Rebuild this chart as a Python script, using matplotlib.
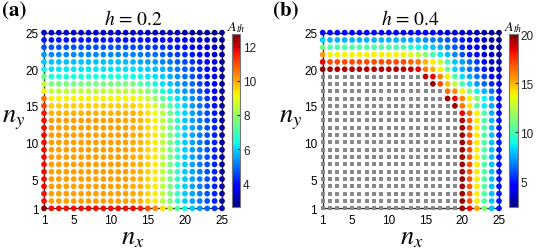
import numpy as np
import matplotlib
matplotlib.use("Agg")
import matplotlib.pyplot as plt

plt.rcParams["mathtext.fontset"] = "stix"
plt.rcParams["font.family"] = ["Liberation Sans", "DejaVu Sans"]

N = np.nan
n_idx = list(range(1, 26))
ticks = [1, 5, 10, 15, 20, 25]

# A_th for h = 0.2, one row per n_y (1..25), columns n_x (1..25)
A_h02 = [
    [12.7] + [11.7] * 11 + [11.7, 11.5, 11.0, 10.3, 9.4, 8.4, 7.2, 6.4, 5.9, 5.4, 4.9, 4.4, 3.0],
    [11.7] + [10.1] * 11 + [10.0, 9.9, 9.5, 9.3, 8.5, 7.6, 6.7, 5.9, 5.5, 5.1, 4.7, 4.2, 2.9],
    [11.7] + [10.1] * 11 + [10.0, 9.9, 9.5, 9.3, 8.5, 7.6, 6.7, 5.9, 5.5, 5.1, 4.7, 4.2, 2.9],
    [11.7] + [10.1] * 11 + [10.0, 9.9, 9.5, 9.3, 8.5, 7.6, 6.7, 5.9, 5.5, 5.1, 4.7, 4.2, 2.9],
    [11.7] + [10.1] * 11 + [10.0, 9.9, 9.5, 9.3, 8.5, 7.6, 6.7, 5.9, 5.5, 5.1, 4.7, 4.2, 2.9],
    [11.7] + [10.1] * 11 + [10.0, 9.9, 9.5, 9.3, 8.5, 7.6, 6.7, 5.9, 5.5, 5.1, 4.7, 4.2, 2.9],
    [11.7] + [10.1] * 11 + [10.0, 9.9, 9.5, 9.3, 8.5, 7.6, 6.7, 5.9, 5.5, 5.1, 4.7, 4.2, 2.9],
    [11.7] + [10.1] * 11 + [10.0, 9.9, 9.5, 9.3, 8.5, 7.6, 6.7, 5.9, 5.5, 5.1, 4.7, 4.2, 2.9],
    [11.7] + [10.1] * 11 + [10.0, 9.9, 9.5, 9.3, 8.5, 7.6, 6.7, 5.9, 5.5, 5.1, 4.7, 4.2, 2.9],
    [11.7] + [10.1] * 11 + [10.0, 9.9, 9.5, 9.3, 8.5, 7.6, 6.7, 5.9, 5.5, 5.1, 4.7, 4.2, 2.9],
    [11.7] + [10.1] * 11 + [10.0, 9.9, 9.5, 9.3, 8.5, 7.6, 6.7, 5.9, 5.5, 5.1, 4.7, 4.2, 2.9],
    [11.7] + [10.1] * 11 + [10.0, 9.9, 9.5, 9.3, 8.5, 7.6, 6.7, 5.9, 5.5, 5.1, 4.7, 4.2, 2.9],
    [11.7] + [10.1] * 10 + [10.05, 10.0, 9.85, 9.5, 9.25, 8.5, 7.6, 6.7, 5.9, 5.5, 5.1, 4.7, 4.2, 2.9],
    [11.6] + [9.9] * 10 + [9.9, 9.9, 9.7, 9.4, 9.1, 8.4, 7.5, 6.6, 6.0, 5.5, 5.1, 4.6, 4.1, 2.9],
    [11.2] + [9.6] * 10 + [9.6, 9.6, 9.4, 9.2, 8.7, 7.9, 7.1, 6.4, 5.9, 5.4, 5.0, 4.5, 4.0, 2.9],
    [10.6] + [9.2] * 10 + [9.2, 9.2, 9.0, 8.6, 8.0, 7.2, 6.6, 6.1, 5.7, 5.3, 4.9, 4.4, 3.9, 2.9],
    [9.3] + [8.5] * 10 + [8.5, 8.5, 8.3, 7.8, 7.3, 6.6, 6.2, 5.8, 5.4, 5.1, 4.7, 4.3, 3.8, 2.9],
    [8.5] + [7.6] * 10 + [7.6, 7.6, 7.2, 6.9, 6.4, 6.1, 5.8, 5.5, 5.2, 4.9, 4.5, 4.1, 3.7, 2.9],
    [7.5] + [6.5] * 10 + [6.5, 6.4, 6.3, 6.2, 6.1, 5.9, 5.6, 5.3, 5.0, 4.7, 4.4, 4.0, 3.6, 2.9],
    [6.3] + [6.15] * 10 + [6.1, 6.1, 6.0, 5.9, 5.8, 5.6, 5.4, 5.1, 4.8, 4.6, 4.3, 3.9, 3.5, 2.9],
    [5.9] + [5.8] * 10 + [5.75, 5.7, 5.6, 5.5, 5.4, 5.2, 5.0, 4.8, 4.6, 4.4, 4.1, 3.8, 3.4, 2.85],
    [5.4] + [5.25] * 10 + [5.2, 5.2, 5.1, 5.0, 4.9, 4.8, 4.6, 4.5, 4.3, 4.1, 3.9, 3.6, 3.3, 2.85],
    [4.7] + [4.7] * 10 + [4.65, 4.6, 4.55, 4.5, 4.5, 4.4, 4.3, 4.1, 3.95, 3.8, 3.6, 3.4, 3.2, 2.8],
    [4.1] + [4.1] * 10 + [4.05, 4.0, 4.0, 3.95, 3.9, 3.85, 3.8, 3.7, 3.6, 3.5, 3.4, 3.3, 3.1, 2.8],
    [3.25] + [3.25] * 10 + [3.2, 3.2, 3.2, 3.15, 3.1, 3.1, 3.05, 3.0, 2.95, 2.9, 2.85, 2.8, 2.75, 2.7],
]

# A_th for h = 0.4 (nan = no threshold, grey squares)
A_h04 = [
    [N] * 19 + [19.5, 18.2, 15.3, 11.3, 8.1, 5.0],
    [N] * 19 + [19.5, 16.9, 14.0, 10.3, 7.9, 5.0],
    [N] * 19 + [19.5, 16.9, 14.0, 10.3, 7.9, 5.0],
    [N] * 19 + [19.5, 16.9, 14.0, 10.3, 7.9, 5.0],
    [N] * 19 + [19.5, 16.9, 14.0, 10.3, 7.9, 5.0],
    [N] * 19 + [19.5, 16.9, 14.0, 10.3, 7.9, 5.0],
    [N] * 19 + [19.5, 16.9, 14.0, 10.3, 7.9, 5.0],
    [N] * 19 + [19.5, 16.9, 14.0, 10.3, 7.9, 5.0],
    [N] * 19 + [19.5, 16.9, 14.0, 10.3, 7.9, 5.0],
    [N] * 19 + [19.5, 16.9, 14.0, 10.3, 7.9, 5.0],
    [N] * 19 + [19.5, 16.9, 14.0, 10.3, 7.9, 5.0],
    [N] * 19 + [19.5, 16.9, 14.0, 10.3, 7.9, 5.0],
    [N] * 19 + [19.2, 16.6, 13.9, 10.3, 7.8, 4.9],
    [N] * 19 + [18.3, 16.3, 13.9, 10.3, 7.7, 4.8],
    [N] * 18 + [19.6, 16.2, 14.0, 10.5, 8.7, 7.5, 4.7],
    [N] * 17 + [19.6, 18.3, 16.0, 13.9, 11.3, 8.8, 7.5, 4.6],
    [N] * 17 + [16.3, 15.8, 13.9, 11.3, 8.8, 7.7, 6.6, 4.3],
    [N] * 15 + [19.6, 17.0, 14.8, 12.6, 10.0, 8.5, 7.3, 6.4, 5.3, 3.9],
    [N] * 14 + [19.2, 18.3, 16.0, 13.9, 10.2, 8.5, 7.5, 6.6, 5.7, 4.5, 3.7],
    [19.8] + [19.2] * 11 + [19.0, 18.4, 16.2, 15.0, 13.8, 10.8, 8.3, 7.5, 6.6, 5.9, 5.0, 3.8, 3.4],
    [18.4] + [17.0] * 11 + [16.5, 16.2, 15.0, 14.0, 12.6, 10.0, 8.1, 7.4, 6.5, 5.6, 4.6, 3.6, 3.2],
    [15.5] + [13.9] * 11 + [13.0, 12.6, 11.3, 10.1, 8.7, 7.9, 6.9, 6.0, 5.1, 4.2, 3.7, 3.3, 3.0],
    [11.0] + [10.2] * 11 + [9.4, 8.9, 8.5, 8.0, 7.6, 6.9, 6.1, 5.3, 4.6, 4.0, 3.5, 3.1, 2.9],
    [8.2] + [7.7] * 11 + [7.5, 7.4, 7.1, 6.8, 6.5, 6.1, 5.6, 5.0, 4.3, 3.8, 3.4, 3.0, 2.75],
    [4.7] + [4.7] * 11 + [4.5, 4.5, 4.4, 4.3, 4.1, 4.0, 3.8, 3.6, 3.4, 3.2, 3.0, 2.8, 2.6],
]

titles = ["$h$ = 0.2", "$h$ = 0.4"]
panel_tags = ["(a)", "(b)"]
clims = [(2.6, 12.75), (2.4, 20.0)]
cbar_ticks = [[4, 6, 8, 10, 12], [5, 10, 15, 20]]

fig = plt.figure(figsize=(5.55, 2.51), dpi=100)
ax_pos = [[0.0793, 0.166, 0.3207, 0.700], [0.5814, 0.166, 0.3177, 0.700]]
cax_pos = [[0.418, 0.1713, 0.015, 0.689], [0.9177, 0.1713, 0.0151, 0.689]]
tag_x = [0.004, 0.492]
xlab_x = [0.24, 0.742]
ylab_x = [0.024, 0.524]

for k, data in enumerate([A_h02, A_h04]):
    Z = np.array(data, dtype=float)
    X, Y = np.meshgrid(n_idx, n_idx)
    ok = ~np.isnan(Z)
    ax = fig.add_axes(ax_pos[k])
    if (~ok).any():
        ax.scatter(X[~ok], Y[~ok], s=10, marker="s", c="#888888", linewidths=0,
                   clip_on=False, zorder=3)
    sc = ax.scatter(X[ok], Y[ok], c=Z[ok], cmap="jet", vmin=clims[k][0], vmax=clims[k][1],
                    s=17, linewidths=0, clip_on=False, zorder=3)
    ax.set_xlim(1, 25); ax.set_ylim(1, 25)
    ax.set_xticks(ticks); ax.set_yticks(ticks)
    ax.tick_params(length=0, labelsize=8.5, pad=4)
    for sp in ax.spines.values():
        sp.set_color("#333333"); sp.set_linewidth(1.0)
    fig.text(xlab_x[k], 0.05, "$n_x$", fontsize=19, ha="center", va="center")
    fig.text(ylab_x[k], 0.52, "$n_y$", fontsize=19, ha="center", va="center")
    ax.set_title(titles[k], fontsize=14, family="STIXGeneral", pad=6)
    fig.text(tag_x[k], 0.955, panel_tags[k], fontsize=15, fontweight="bold",
             family="STIXGeneral", va="center", ha="left")

    cax = fig.add_axes(cax_pos[k])
    cb = fig.colorbar(sc, cax=cax, ticks=cbar_ticks[k])
    cb.outline.set_edgecolor("#777777"); cb.outline.set_linewidth(0.8)
    cax.tick_params(labelsize=8.5, length=2, direction="in", pad=2, colors="#222222")
    cax.set_title("$A_{th}$", fontsize=10, pad=3)

fig.savefig("out.png", dpi=100)
